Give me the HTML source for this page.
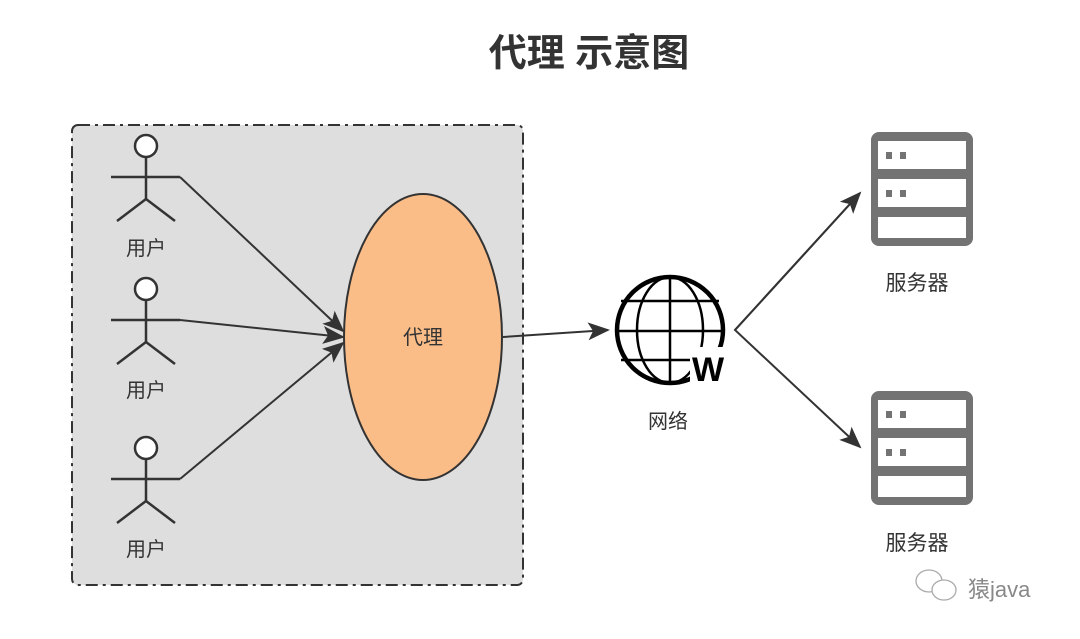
<!DOCTYPE html>
<html><head><meta charset="utf-8"><style>
html,body{margin:0;padding:0;background:#fff;}
svg{display:block;font-family:"Liberation Sans","Noto Sans CJK SC",sans-serif;}
</style></head><body>
<svg width="1080" height="639" viewBox="0 0 1080 639" xmlns="http://www.w3.org/2000/svg">
<defs>
<marker id="b" markerWidth="22" markerHeight="22" refX="20" refY="11" orient="auto" markerUnits="userSpaceOnUse" viewBox="0 0 22 22">
<path d="M0,2 L22,11 L0,20 L5,11 Z" fill="#333"/>
</marker>
</defs>
<text x="589" y="66" text-anchor="middle" font-size="38" font-weight="bold" fill="#333">代理 示意图</text>
<rect x="72" y="125" width="451" height="460" rx="6" fill="#dedede" stroke="#333" stroke-width="2" stroke-dasharray="12,5,3,5"/>
<g stroke="#333" stroke-width="2.5" fill="none">
<g>
<circle cx="146" cy="146" r="11" fill="#fff"/><line x1="111" y1="177" x2="180" y2="177"/><line x1="146" y1="157" x2="146" y2="199"/><line x1="146" y1="199" x2="117" y2="221"/><line x1="146" y1="199" x2="175" y2="221"/>
</g>
<g transform="translate(0,143)">
<circle cx="146" cy="146" r="11" fill="#fff"/><line x1="111" y1="177" x2="180" y2="177"/><line x1="146" y1="157" x2="146" y2="199"/><line x1="146" y1="199" x2="117" y2="221"/><line x1="146" y1="199" x2="175" y2="221"/>
</g>
<g transform="translate(0,302)">
<circle cx="146" cy="146" r="11" fill="#fff"/><line x1="111" y1="177" x2="180" y2="177"/><line x1="146" y1="157" x2="146" y2="199"/><line x1="146" y1="199" x2="117" y2="221"/><line x1="146" y1="199" x2="175" y2="221"/>
</g>
</g>
<g font-size="20" fill="#333" text-anchor="middle">
<text x="146" y="255">用户</text>
<text x="146" y="397">用户</text>
<text x="146" y="556">用户</text>
</g>
<g stroke="#333" stroke-width="2" fill="none">
<line x1="180" y1="177" x2="343" y2="331" marker-end="url(#b)"/>
<line x1="180" y1="320" x2="343" y2="337" marker-end="url(#b)"/>
<line x1="180" y1="479" x2="343" y2="343" marker-end="url(#b)"/>
</g>
<ellipse cx="423" cy="337" rx="79" ry="143" fill="#fbbd88" stroke="#333" stroke-width="2"/>
<text x="423" y="344" text-anchor="middle" font-size="20" fill="#333">代理</text>
<line x1="503" y1="337" x2="608" y2="330" stroke="#333" stroke-width="2" marker-end="url(#b)"/>
<g stroke="#000" fill="none">
<circle cx="670" cy="330" r="53" stroke-width="4.5"/>
<ellipse cx="670" cy="330" rx="33" ry="53" stroke-width="2.5"/>
<line x1="670" y1="277" x2="670" y2="383" stroke-width="2.5"/>
<line x1="621" y1="301" x2="719" y2="301" stroke-width="2.5"/>
<line x1="617" y1="331" x2="723" y2="331" stroke-width="2.5"/>
<line x1="621" y1="360" x2="690" y2="360" stroke-width="2.5"/>
</g>
<rect x="690" y="347" width="38" height="40" fill="#fff"/>
<text x="708" y="381" text-anchor="middle" font-size="34" font-weight="bold" fill="#000">W</text>
<text x="668" y="428" text-anchor="middle" font-size="20" fill="#333">网络</text>
<g stroke="#333" stroke-width="2" fill="none">
<polyline points="860,193 735,330 860,447" marker-end="url(#b)"/>
</g>
<line x1="735" y1="330" x2="860" y2="193" stroke="#333" stroke-width="2" marker-end="url(#b)"/>
<g fill="#737373">
<rect x="871" y="132" width="102" height="114" rx="8"/>
<rect x="871" y="391" width="102" height="114" rx="8"/>
</g>
<g fill="#fff">
<rect x="878" y="141" width="88" height="28"/><rect x="878" y="179" width="88" height="28"/><rect x="878" y="217" width="88" height="21"/>
<rect x="878" y="400" width="88" height="28"/><rect x="878" y="438" width="88" height="28"/><rect x="878" y="476" width="88" height="21"/>
</g>
<g fill="#737373">
<rect x="886" y="152" width="6" height="7"/><rect x="900" y="152" width="6" height="7"/>
<rect x="886" y="190" width="6" height="7"/><rect x="900" y="190" width="6" height="7"/>
<rect x="886" y="411" width="6" height="7"/><rect x="900" y="411" width="6" height="7"/>
<rect x="886" y="449" width="6" height="7"/><rect x="900" y="449" width="6" height="7"/>
</g>
<text x="917" y="290" text-anchor="middle" font-size="21" fill="#333">服务器</text>
<text x="917" y="550" text-anchor="middle" font-size="21" fill="#333">服务器</text>
<g stroke="#aaa" stroke-width="1.3" fill="#fff">
<ellipse cx="929" cy="581" rx="13" ry="11"/>
<ellipse cx="944" cy="590" rx="12" ry="10"/>
</g>
<text x="968" y="597" font-size="22" fill="#888">猿java</text>
</svg>
</body></html>
